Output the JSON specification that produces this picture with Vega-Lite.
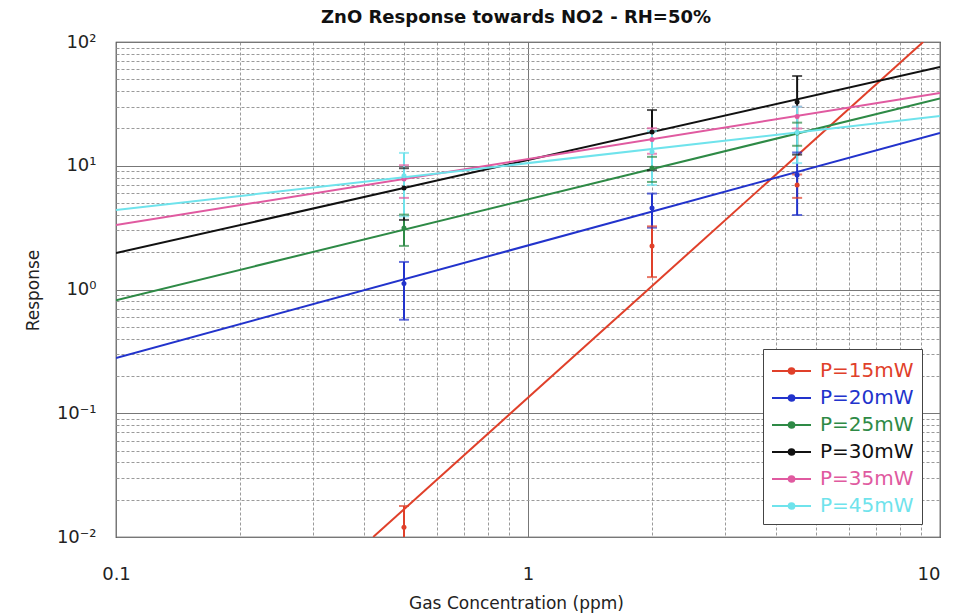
{
  "$schema": "https://vega.github.io/schema/vega-lite/v6.json",
  "width": 824,
  "height": 495,
  "autosize": {"type": "none"},
  "padding": {"left": 116, "top": 42, "right": 26, "bottom": 76},
  "background": "white",
  "title": {"text": "ZnO Response towards NO2 - RH=50%", "fontSize": 18, "fontWeight": "bold", "font": "DejaVu Sans", "color": "#111", "offset": 6, "dx": -12},
  "config": {
    "view": {"stroke": "#222", "strokeWidth": 1.2},
    "font": "DejaVu Sans",
    "axis": {"labelFont": "DejaVu Sans", "titleFont": "DejaVu Sans", "labelFontSize": 18, "titleFontSize": 17, "labelColor": "#222", "titleColor": "#222", "titleFontWeight": "normal", "domain": false, "ticks": false, "labelOverlap": false}
  },
  "datasets": {
    "lines": [
      {"series": "P=15mW", "x": 0.421, "y": 0.01},
      {"series": "P=15mW", "x": 9.1, "y": 100},
      {"series": "P=20mW", "x": 0.1, "y": 0.28},
      {"series": "P=20mW", "x": 10, "y": 18.4},
      {"series": "P=25mW", "x": 0.1, "y": 0.82},
      {"series": "P=25mW", "x": 10, "y": 34.9},
      {"series": "P=30mW", "x": 0.1, "y": 1.97},
      {"series": "P=30mW", "x": 10, "y": 62.8},
      {"series": "P=35mW", "x": 0.1, "y": 3.32},
      {"series": "P=35mW", "x": 10, "y": 38.7},
      {"series": "P=45mW", "x": 0.1, "y": 4.38},
      {"series": "P=45mW", "x": 10, "y": 25.2}
    ],
    "err": [
      {"series": "P=15mW", "x": 0.5, "y": 0.012, "lo": 0.0062, "hi": 0.0178},
      {"series": "P=15mW", "x": 2, "y": 2.25, "lo": 1.26, "hi": 3.24},
      {"series": "P=15mW", "x": 4.5, "y": 7.0, "lo": 5.5, "hi": 8.5},
      {"series": "P=20mW", "x": 0.5, "y": 1.12, "lo": 0.57, "hi": 1.67},
      {"series": "P=20mW", "x": 2, "y": 4.56, "lo": 3.16, "hi": 5.96},
      {"series": "P=20mW", "x": 4.5, "y": 8.4, "lo": 4.0, "hi": 12.8},
      {"series": "P=25mW", "x": 0.5, "y": 3.14, "lo": 2.25, "hi": 4.03},
      {"series": "P=25mW", "x": 2, "y": 9.6, "lo": 7.4, "hi": 11.8},
      {"series": "P=25mW", "x": 4.5, "y": 18.4, "lo": 14.5, "hi": 22.3},
      {"series": "P=30mW", "x": 0.5, "y": 6.6, "lo": 3.65, "hi": 9.55},
      {"series": "P=30mW", "x": 2, "y": 18.7, "lo": 9.2, "hi": 28.2},
      {"series": "P=30mW", "x": 4.5, "y": 32.7, "lo": 12.3, "hi": 53.1},
      {"series": "P=35mW", "x": 0.5, "y": 7.8, "lo": 5.5, "hi": 10.1},
      {"series": "P=35mW", "x": 2, "y": 16.3, "lo": 12.5, "hi": 20.1},
      {"series": "P=35mW", "x": 4.5, "y": 25, "lo": 20, "hi": 30},
      {"series": "P=45mW", "x": 0.5, "y": 8.3, "lo": 3.9, "hi": 12.7},
      {"series": "P=45mW", "x": 2, "y": 13, "lo": 7, "hi": 19},
      {"series": "P=45mW", "x": 4.5, "y": 18.6, "lo": 10.5, "hi": 30}
    ]
  },
  "layer": [
    {
      "data": {"name": "lines"},
      "mark": {"type": "line", "strokeWidth": 2, "clip": true},
      "encoding": {
        "x": {"field": "x", "type": "quantitative",
          "scale": {"type": "log", "domain": [0.1, 10], "nice": false},
          "axis": {"title": "Gas Concentration (ppm)", "titleY": 66, "titleBaseline": "middle", "titleX": 400,
            "values": [0.1,0.2,0.3,0.4,0.5,0.6,0.7,0.8,0.9,1,2,3,4,5,6,7,8,9,10],
            "labelExpr": "datum.value==0.1?'0.1':datum.value==1?'1':datum.value==10?'10':''",
            "labelFlush": false,
            "labelAlign": {"condition": {"test": "datum.value==10", "value": "right"}, "value": "center"},
            "labelPadding": 28,
            "gridColor": {"condition": {"test": "indexof([0.1,1,10], datum.value) >= 0", "value": "#777"}, "value": "#9a9a9a"},
            "gridDash": {"condition": {"test": "indexof([0.1,1,10], datum.value) >= 0", "value": []}, "value": [3, 2]},
            "gridWidth": 1, "gridOpacity": 1}},
        "y": {"field": "y", "type": "quantitative",
          "scale": {"type": "log", "domain": [0.01, 100], "nice": false},
          "axis": {"title": "Response", "titleX": -83, "titleY": 248, "titleBaseline": "middle", "titleAngle": -90,
            "values": [0.01,0.02,0.03,0.04,0.05,0.06,0.07,0.08,0.09,0.1,0.2,0.3,0.4,0.5,0.6,0.7,0.8,0.9,1,2,3,4,5,6,7,8,9,10,20,30,40,50,60,70,80,90,100],
            "labelExpr": "datum.value==100?'10²':datum.value==10?'10¹':datum.value==1?'10⁰':datum.value==0.1?'10⁻¹':datum.value==0.01?'10⁻²':''",
            "labelPadding": 20,
            "gridColor": {"condition": {"test": "indexof([0.01,0.1,1,10,100], datum.value) >= 0", "value": "#777"}, "value": "#9a9a9a"},
            "gridDash": {"condition": {"test": "indexof([0.01,0.1,1,10,100], datum.value) >= 0", "value": []}, "value": [3, 2]},
            "gridWidth": 1, "gridOpacity": 1}},
        "color": {"field": "series", "type": "nominal",
          "scale": {"domain": ["P=15mW","P=20mW","P=25mW","P=30mW","P=35mW","P=45mW"], "range": ["#e0402a","#2233cc","#2e8a46","#111111","#e05aa0","#6fe3ec"]},
          "legend": {"title": null, "orient": "none", "legendX": 647, "legendY": 307,
            "fillColor": "white", "strokeColor": "#444", "padding": 8, "rowPadding": 3,
            "labelFont": "DejaVu Sans", "labelFontSize": 20, "labelOffset": 21,
            "symbolType": "M-1,0H2M0.28,0A0.22,0.22,0,1,1,0.72,0A0.22,0.22,0,1,1,0.28,0Z",
            "symbolSize": 676, "symbolStrokeWidth": 2,
            "encode": {
              "labels": {"update": {"fill": {"signal": "scale('color', datum.value)"}}},
              "symbols": {"update": {"fill": {"signal": "scale('color', datum.value)"}, "stroke": {"signal": "scale('color', datum.value)"}}}
            }}}
      }
    },
    {
      "data": {"name": "err"},
      "mark": {"type": "rule", "strokeWidth": 2, "clip": true},
      "encoding": {
        "x": {"field": "x", "type": "quantitative", "title": "Gas Concentration (ppm)"},
        "y": {"field": "lo", "type": "quantitative", "title": "Response"},
        "y2": {"field": "hi"},
        "color": {"field": "series", "type": "nominal"}
      }
    },
    {
      "data": {"name": "err"},
      "mark": {"type": "tick", "orient": "horizontal", "size": 10, "thickness": 2, "clip": true},
      "encoding": {
        "x": {"field": "x", "type": "quantitative", "title": "Gas Concentration (ppm)"},
        "y": {"field": "lo", "type": "quantitative", "title": "Response"},
        "color": {"field": "series", "type": "nominal"}
      }
    },
    {
      "data": {"name": "err"},
      "mark": {"type": "tick", "orient": "horizontal", "size": 10, "thickness": 2, "clip": true},
      "encoding": {
        "x": {"field": "x", "type": "quantitative", "title": "Gas Concentration (ppm)"},
        "y": {"field": "hi", "type": "quantitative", "title": "Response"},
        "color": {"field": "series", "type": "nominal"}
      }
    },
    {
      "data": {"name": "err"},
      "mark": {"type": "point", "filled": true, "size": 25, "opacity": 1, "clip": true},
      "encoding": {
        "x": {"field": "x", "type": "quantitative", "title": "Gas Concentration (ppm)"},
        "y": {"field": "y", "type": "quantitative", "title": "Response"},
        "color": {"field": "series", "type": "nominal"}
      }
    }
  ]
}
